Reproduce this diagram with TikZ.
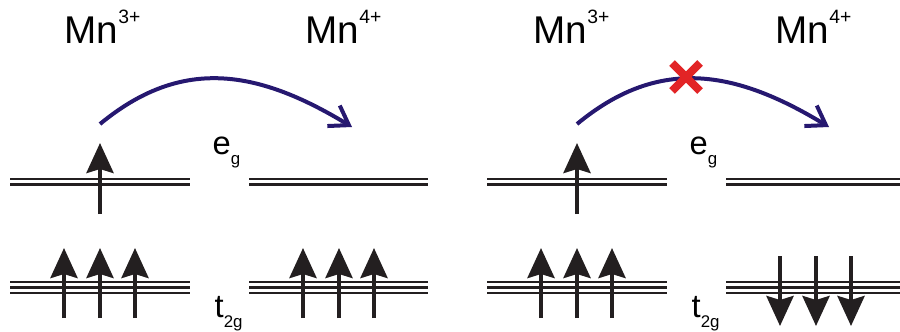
\documentclass[tikz,border=0pt]{standalone}
\usepackage{fontspec}
\setmainfont{Liberation Sans}
\usetikzlibrary{arrows.meta, calc}
\definecolor{mydark}{RGB}{35,31,32}
\definecolor{myblue}{RGB}{38,24,112}
\definecolor{myred}{RGB}{226,36,38}
\newcommand{\ionsup}[1]{\raisebox{2mm}{\fontsize{5.5pt}{6pt}\selectfont #1}}
\newcommand{\orbsub}[1]{\raisebox{-1mm}{\fontsize{4.8pt}{5pt}\selectfont #1}}
\tikzset{
  orbline/.style={line width=0.22mm, color=mydark},
  spin/.style={-{Stealth[length=3mm, width=2.7mm, inset=0.4mm]},
    line width=0.42mm, color=mydark},
  hop/.style={-{Straight Barb[length=1.8mm, width=2.4mm]},
    line width=0.4mm, color=myblue},
  blockx/.style={line width=0.8mm, color=myred},
  ionlabel/.style={anchor=base west, inner sep=0pt,
    font=\fontsize{11pt}{13pt}\selectfont},
  orblabel/.style={anchor=base west, inner sep=0pt,
    font=\fontsize{9.3pt}{11pt}\selectfont}
}

\begin{document}
\begin{tikzpicture}[x=0.1mm, y=-0.1mm]
  \useasboundingbox (0,0) rectangle (900,331);
  % Ion labels
  \node[ionlabel] (mnA) at (64,43) {Mn\ionsup{3+}};
  \node[ionlabel] (mnB) at (305,43) {Mn\ionsup{4+}};
  \node[ionlabel] (mnC) at (533,43) {Mn\ionsup{3+}};
  \node[ionlabel] (mnD) at (775,43) {Mn\ionsup{4+}};
  % Orbital labels
  \node[orblabel] (egA) at (212,154) {e\orbsub{g}};
  \node[orblabel] (tgA) at (214,317) {t\orbsub{2g}};
  \node[orblabel] (egB) at (689,154) {e\orbsub{g}};
  \node[orblabel] (tgB) at (691,317) {t\orbsub{2g}};
  % Levels, left pair
  \draw[orbline] (10,179) -- (190,179) (10,184.5) -- (190,184.5);
  \draw[orbline] (10,282) -- (190,282) (10,287.5) -- (190,287.5) (10,293) -- (190,293);
  \draw[orbline] (249,179) -- (428,179) (249,184.5) -- (428,184.5);
  \draw[orbline] (249,282) -- (428,282) (249,287.5) -- (428,287.5) (249,293) -- (428,293);
  % Levels, right pair
  \draw[orbline] (487,179) -- (667,179) (487,184.5) -- (667,184.5);
  \draw[orbline] (487,282) -- (667,282) (487,287.5) -- (667,287.5) (487,293) -- (667,293);
  \draw[orbline] (726,179) -- (900,179) (726,184.5) -- (900,184.5);
  \draw[orbline] (726,282) -- (900,282) (726,287.5) -- (900,287.5) (726,293) -- (900,293);
  % Spins, left pair (all up)
  \draw[spin] (100,214) -- (100,143);
  \draw[spin] (64,318) -- (64,248);
  \draw[spin] (100,318) -- (100,248);
  \draw[spin] (135,318) -- (135,248);
  \draw[spin] (303,318) -- (303,248);
  \draw[spin] (339,318) -- (339,248);
  \draw[spin] (374,318) -- (374,248);
  % Spins, right pair (Mn4+ core spins down)
  \draw[spin] (577,214) -- (577,143);
  \draw[spin] (541,318) -- (541,248);
  \draw[spin] (577,318) -- (577,248);
  \draw[spin] (612,318) -- (612,248);
  \draw[spin] (780,256) -- (780,326);
  \draw[spin] (816,256) -- (816,326);
  \draw[spin] (851,256) -- (851,326);
  % Hopping
  \coordinate (hopA) at (100,124);
  \coordinate (hopB) at (352,127);
  \coordinate (hopC) at (577,124);
  \coordinate (hopD) at (829,127);
  \draw[hop] (hopA) .. controls (180,58) and (255,68) .. (hopB);
  \draw[hop] (hopC) .. controls (657,58) and (732,68) .. (hopD);
  % Blocked hop
  \coordinate (block) at (686,77);
  \draw[blockx] ($(block)+(-14,-14)$) -- ($(block)+(14,14)$);
  \draw[blockx] ($(block)+(-14,14)$) -- ($(block)+(14,-14)$);
\end{tikzpicture}
\end{document}
